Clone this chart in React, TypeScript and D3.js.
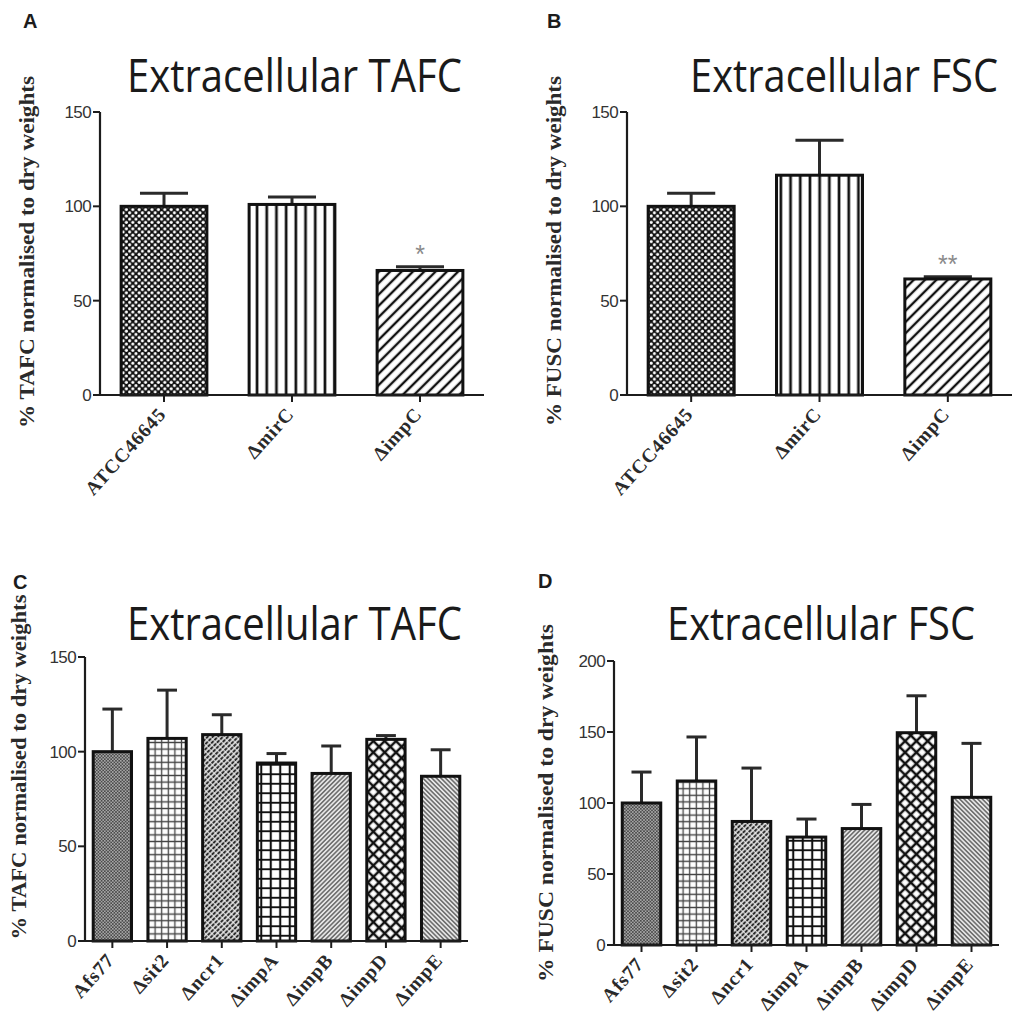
import React from "react";
import * as d3 from "d3";

// ---------- DATA ----------
const catsAB = ["ATCC46645", "ΔmirC", "ΔimpC"];
const tafcA = [100, 101, 66];
const tafcAErr = [7, 4, 2];
const starsA = ["", "", "*"];

const fscB = [100, 116.5, 61.5];
const fscBErr = [7, 18.5, 1.2];
const starsB = ["", "", "**"];

const catsCD = ["Afs77", "Δsit2", "Δncr1", "ΔimpA", "ΔimpB", "ΔimpD", "ΔimpE"];
const tafcC = [100, 107, 109, 94, 88.5, 106.5, 87];
const tafcCErr = [22.5, 25.5, 10.5, 5, 14.5, 2, 14];
const starsC = ["", "", "", "", "", "", ""];

const fscD = [100, 115.5, 87, 76, 82, 149.5, 104];
const fscDErr = [21.8, 31, 37.6, 12.7, 17, 26, 38];
const starsD = ["", "", "", "", "", "", ""];

const ticksABC = [0, 50, 100, 150];
const ticksD = [0, 50, 100, 150, 200];

const patternsAB = ["dotsBig", "vstripe", "diagBig"];
const patternsCD = ["fineDots", "fineGrid", "dashDiag", "boldGrid", "fineDiagR", "diamond", "fineDiagL"];

const TITLE_FONT = "45px 'Open Sans', sans-serif";

function measure(text: string, font: string, fallback: number): number {
  try {
    const c = document.createElement("canvas");
    const ctx = c.getContext("2d");
    if (!ctx) return fallback;
    ctx.font = font;
    const w = ctx.measureText(text).width;
    return w > 0 ? w : fallback;
  } catch (e) {
    return fallback;
  }
}

type PanelProps = {
  letter: string;
  letterX: number;
  letterY: number;
  title: string;
  titleX: number;
  titleY: number;
  titleLen: number;
  yLabel: string;
  yLabelX: number;
  yLabelCY: number;
  yLabelLen: number;
  cats: string[];
  values: number[];
  errs: number[];
  stars: string[];
  patterns: string[];
  ticks: number[];
  x0: number;
  x1: number;
  y0: number;
  yTop: number;
  pad: number;
  capFrac: number;
};

function Panel(p: PanelProps) {
  const max = p.ticks[p.ticks.length - 1];
  const y = d3.scaleLinear().domain([0, max]).range([p.y0, p.yTop]);
  const x = d3
    .scaleBand<string>()
    .domain(p.cats)
    .range([p.x0, p.x1])
    .paddingInner(p.pad)
    .paddingOuter(p.pad / 2);
  const bw = x.bandwidth();
  const ink = "#1c1c1c";
  const natural = measure(p.title, TITLE_FONT, p.titleLen * 1.17);
  const sx = p.titleLen / natural;
  return (
    <g>
      <text
        x={p.letterX}
        y={p.letterY}
        fontFamily="Liberation Sans, Arial, sans-serif"
        fontWeight="bold"
        fontSize={20}
        fill={ink}
      >
        {p.letter}
      </text>
      <text
        transform={`translate(${p.titleX},${p.titleY}) scale(${sx},1)`}
        fontFamily="'Open Sans', sans-serif"
        fontSize={45}
        fill="#1a1a1a"
      >
        {p.title}
      </text>
      <text
        transform={`translate(${p.yLabelX},${p.yLabelCY}) rotate(-90)`}
        textAnchor="middle"
        fontFamily="Liberation Serif, Times New Roman, serif"
        fontWeight="bold"
        fontSize={20.5}
        textLength={p.yLabelLen}
        lengthAdjust="spacingAndGlyphs"
        fill="#2a2a2a"
      >
        {p.yLabel}
      </text>
      {/* y axis */}
      <line x1={p.x0} x2={p.x0} y1={y(max)} y2={y(0)} stroke={ink} strokeWidth={2.2} />
      {p.ticks.map((t) => (
        <g key={t}>
          <line x1={p.x0 - 7} x2={p.x0} y1={y(t)} y2={y(t)} stroke={ink} strokeWidth={2} />
          <text
            x={p.x0 - 9}
            y={y(t)}
            dy="0.36em"
            textAnchor="end"
            fontFamily="Liberation Sans, Arial, sans-serif"
            fontSize={17}
            letterSpacing={-0.6}
            fill="#333"
          >
            {t}
          </text>
        </g>
      ))}
      {/* bars */}
      {p.cats.map((c, i) => {
        const cx = (x(c) as number) + bw / 2;
        const top = y(p.values[i]);
        const et = y(p.values[i] + p.errs[i]);
        const cw = bw * p.capFrac;
        return (
          <g key={c}>
            <line x1={cx} x2={cx} y1={top} y2={et} stroke="#2a2a2a" strokeWidth={3} />
            <line x1={cx - cw / 2} x2={cx + cw / 2} y1={et} y2={et} stroke="#2a2a2a" strokeWidth={3} />
            <rect
              x={x(c) as number}
              y={top}
              width={bw}
              height={p.y0 - top}
              fill={`url(#${p.patterns[i]})`}
              stroke="#111"
              strokeWidth={3}
            />
            {p.stars[i] ? (
              <text
                x={cx}
                y={et - 4}
                textAnchor="middle"
                fontFamily="Liberation Sans, Arial, sans-serif"
                fontSize={25}
                fill="#8a8a8a"
              >
                {p.stars[i]}
              </text>
            ) : null}
          </g>
        );
      })}
      {/* x axis */}
      <line x1={p.x0} x2={p.x1} y1={p.y0} y2={p.y0} stroke={ink} strokeWidth={2.2} />
      {p.cats.map((c) => {
        const cx = (x(c) as number) + bw / 2;
        return (
          <g key={"t" + c}>
            <line x1={cx} x2={cx} y1={p.y0} y2={p.y0 + 7} stroke={ink} strokeWidth={2} />
            <text
              transform={`translate(${cx + 3},${p.y0 + 20}) rotate(-48)`}
              textAnchor="end"
              fontFamily="Liberation Serif, Times New Roman, serif"
              fontWeight="bold"
              fontSize={19.5}
              letterSpacing={0.8}
              fill="#2a2a2a"
            >
              {c}
            </text>
          </g>
        );
      })}
    </g>
  );
}

function Patterns() {
  return (
    <defs>
      <pattern id="dotsBig" width={6.4} height={6.4} patternUnits="userSpaceOnUse">
        <rect width={6.4} height={6.4} fill="#111" />
        <circle cx={1.6} cy={1.6} r={1.55} fill="#fff" />
        <circle cx={4.8} cy={4.8} r={1.55} fill="#fff" />
      </pattern>
      <pattern id="vstripe" width={9.7} height={10} patternUnits="userSpaceOnUse">
        <rect width={9.7} height={10} fill="#fff" />
        <rect x={3.5} width={2.7} height={10} fill="#111" />
      </pattern>
      <pattern id="diagBig" width={8} height={8} patternUnits="userSpaceOnUse" patternTransform="rotate(45)">
        <rect width={8} height={8} fill="#fff" />
        <rect x={2.8} width={2.4} height={8} fill="#111" />
      </pattern>
      <pattern id="fineDots" width={3.2} height={3.2} patternUnits="userSpaceOnUse">
        <rect width={3.2} height={3.2} fill="#4a4a4a" />
        <circle cx={0.8} cy={0.8} r={0.75} fill="#cfcfcf" />
        <circle cx={2.4} cy={2.4} r={0.75} fill="#cfcfcf" />
      </pattern>
      <pattern id="fineGrid" width={6.6} height={6.6} patternUnits="userSpaceOnUse">
        <rect width={6.6} height={6.6} fill="#fff" />
        <path d="M0 3.3H6.6M3.3 0V6.6" stroke="#444" strokeWidth={1.3} />
      </pattern>
      <pattern id="dashDiag" width={3.6} height={4.6} patternUnits="userSpaceOnUse" patternTransform="rotate(45)">
        <rect width={3.6} height={4.6} fill="#f4f4f4" />
        <rect x={0.7} y={0.3} width={2.2} height={3.6} fill="#2a2a2a" />
      </pattern>
      <pattern id="boldGrid" width={9.5} height={9.5} patternUnits="userSpaceOnUse">
        <rect width={9.5} height={9.5} fill="#fff" />
        <path d="M0 4.75H9.5M4.75 0V9.5" stroke="#111" strokeWidth={2.1} />
      </pattern>
      <pattern id="fineDiagR" width={3.2} height={4} patternUnits="userSpaceOnUse" patternTransform="rotate(45)">
        <rect width={3.2} height={4} fill="#e6e6e6" />
        <rect x={0.95} width={1.3} height={4} fill="#555" />
      </pattern>
      <pattern id="diamond" width={8} height={8} patternUnits="userSpaceOnUse" patternTransform="rotate(45)">
        <rect width={8} height={8} fill="#fff" />
        <path d="M0 4H8M4 0V8" stroke="#111" strokeWidth={2.5} />
      </pattern>
      <pattern id="fineDiagL" width={3.2} height={4} patternUnits="userSpaceOnUse" patternTransform="rotate(-45)">
        <rect width={3.2} height={4} fill="#e6e6e6" />
        <rect x={0.95} width={1.3} height={4} fill="#555" />
      </pattern>
    </defs>
  );
}

export default function App() {
  return (
    <div style={{ position: "absolute", left: 0, top: 0, background: "#fff" }}>
      <svg width={1024} height={1024} viewBox="0 0 1024 1024" style={{ display: "block" }}>
        <rect width={1024} height={1024} fill="#fff" />
        <Patterns />
        <Panel
          letter="A" letterX={23} letterY={28}
          title="Extracellular TAFC" titleX={127} titleY={92} titleLen={335}
          yLabel="% TAFC normalised to dry weights" yLabelX={34} yLabelCY={252} yLabelLen={352}
          cats={catsAB} values={tafcA} errs={tafcAErr} stars={starsA} patterns={patternsAB}
          ticks={ticksABC} x0={100} x1={484} y0={395} yTop={112} pad={0.33} capFrac={0.56}
        />
        <Panel
          letter="B" letterX={547} letterY={28}
          title="Extracellular FSC" titleX={690} titleY={92} titleLen={308}
          yLabel="% FUSC normalised to dry weights" yLabelX={561} yLabelCY={251} yLabelLen={350}
          cats={catsAB} values={fscB} errs={fscBErr} stars={starsB} patterns={patternsAB}
          ticks={ticksABC} x0={627} x1={1012} y0={395} yTop={112} pad={0.33} capFrac={0.56}
        />
        <Panel
          letter="C" letterX={13} letterY={589}
          title="Extracellular TAFC" titleX={127} titleY={640} titleLen={335}
          yLabel="% TAFC normalised to dry weights" yLabelX={26} yLabelCY={767} yLabelLen={345}
          cats={catsCD} values={tafcC} errs={tafcCErr} stars={starsC} patterns={patternsCD}
          ticks={ticksABC} x0={85} x1={468} y0={941} yTop={657} pad={0.3} capFrac={0.52}
        />
        <Panel
          letter="D" letterX={538} letterY={588}
          title="Extracellular FSC" titleX={667} titleY={640} titleLen={308}
          yLabel="% FUSC normalised to dry weights" yLabelX={553} yLabelCY={803} yLabelLen={358}
          cats={catsCD} values={fscD} errs={fscDErr} stars={starsD} patterns={patternsCD}
          ticks={ticksD} x0={614} x1={999} y0={945} yTop={661} pad={0.3} capFrac={0.52}
        />
      </svg>
    </div>
  );
}
